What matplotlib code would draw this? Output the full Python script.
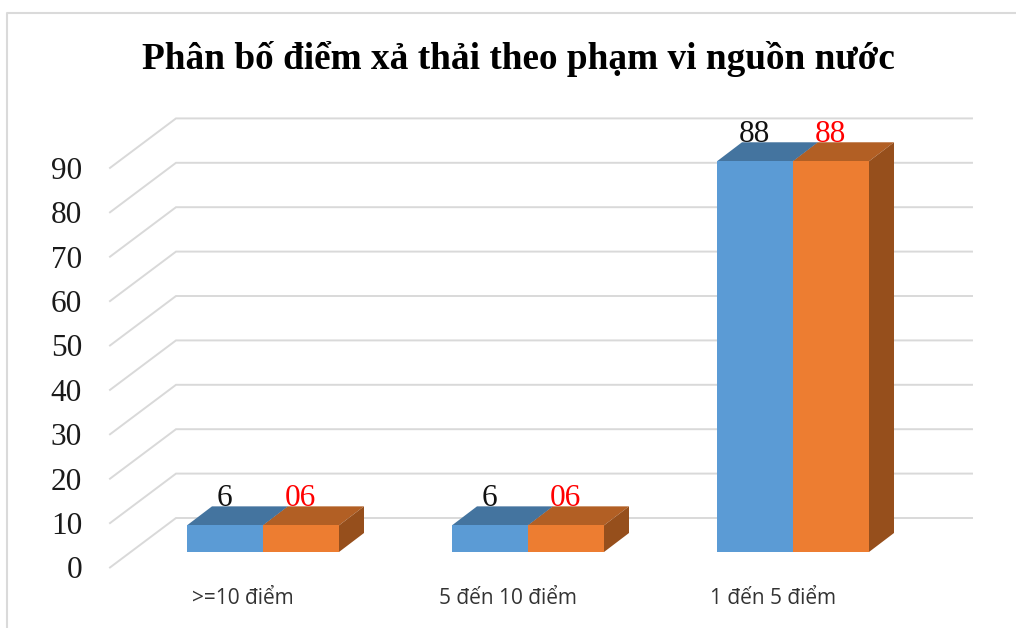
import matplotlib
matplotlib.use("Agg")
import matplotlib.pyplot as plt
from matplotlib.patches import Polygon

title = "Phân bố điểm xả thải theo phạm vi nguồn nước"
categories = [">=10 điểm", "5 đến 10 điểm", "1 đến 5 điểm"]
series_a = [6, 6, 88]
series_b = [6, 6, 88]
labels_a = ["6", "6", "88"]
labels_b = ["06", "06", "88"]
ticks = list(range(0, 100, 10))

W, H = 1016, 628
GROUP = 265.0
UNIT = 4.44
X0, Y0 = 263.0, 552.0
fig = plt.figure(figsize=(W / 100, H / 100), dpi=100, facecolor="white")
ax = fig.add_axes([0, 0, 1, 1])
ax.set_xlim(-X0 / GROUP, (W - X0) / GROUP)
ax.set_ylim((Y0 - H) / UNIT, Y0 / UNIT)
ax.axis("off")

px = 1 / GROUP
pv = 1 / UNIT
bw = 76 * px
dx, dy = 25 * px, 19 * pv
GRID = "#D9D9D9"

# chart border
ax.plot([(7 - X0) * px, (7 - X0) * px, (W - X0) * px],
        [(Y0 - 628) * pv, (Y0 - 13) * pv, (Y0 - 13) * pv],
        color="#DADADA", lw=1.5, clip_on=False)

# gridlines: floor/wall
fx, fy = (110 - X0) * px, (Y0 - 567.5) * pv
bx, by = (176 - X0) * px, (Y0 - 518) * pv
rx = (972 - X0) * px
for t in ticks:
    ax.plot([fx, bx, rx], [fy + t, by + t, by + t], color=GRID, lw=1.4,
            solid_joinstyle="miter", zorder=1)
    ax.text((82 - X0) * px, fy + t - 3.5 * pv, str(t), ha="right", va="center",
            family="Liberation Serif", fontsize=22.5, color="#1a1a1a")


def box(x, v, front, top, side, z):
    ax.add_patch(Polygon([(x, v), (x + dx, v + dy), (x + bw + dx, v + dy), (x + bw, v)],
                         fc=top, ec="none", zorder=z))
    ax.add_patch(Polygon([(x + bw, 0), (x + bw + dx, dy), (x + bw + dx, v + dy), (x + bw, v)],
                         fc=side, ec="none", zorder=z))
    ax.add_patch(Polygon([(x, 0), (x + bw, 0), (x + bw, v), (x, v)],
                         fc=front, ec="none", zorder=z + 0.5))


for i, (a, b) in enumerate(zip(series_a, series_b)):
    box(i - bw, a, "#5B9BD5", "#44749F", "#44749F", 3)
    box(i, b, "#ED7D31", "#B25F24", "#964F1C", 4)
    ax.text(i - bw / 2 - 1 * px, a + dy + 0.5 * pv, labels_a[i], ha="center", va="baseline",
            family="Liberation Serif", fontsize=22.5, color="#111111", zorder=6)
    ax.text(i + bw / 2 - 1 * px, b + dy + 0.5 * pv, labels_b[i], ha="center", va="baseline",
            family="Liberation Serif", fontsize=22.5, color="#FF0000", zorder=6)
    ax.text(i - 20 * px, (Y0 - 599) * pv, categories[i], ha="center", va="center",
            family="Open Sans", fontsize=15, color="#333333")

ax.text((518 - X0) * px, (Y0 - 59) * pv, title, ha="center", va="center",
        family="Liberation Serif", fontweight="bold", fontsize=26.8, color="#000000")

fig.savefig("out.png", dpi=100, facecolor="white")
